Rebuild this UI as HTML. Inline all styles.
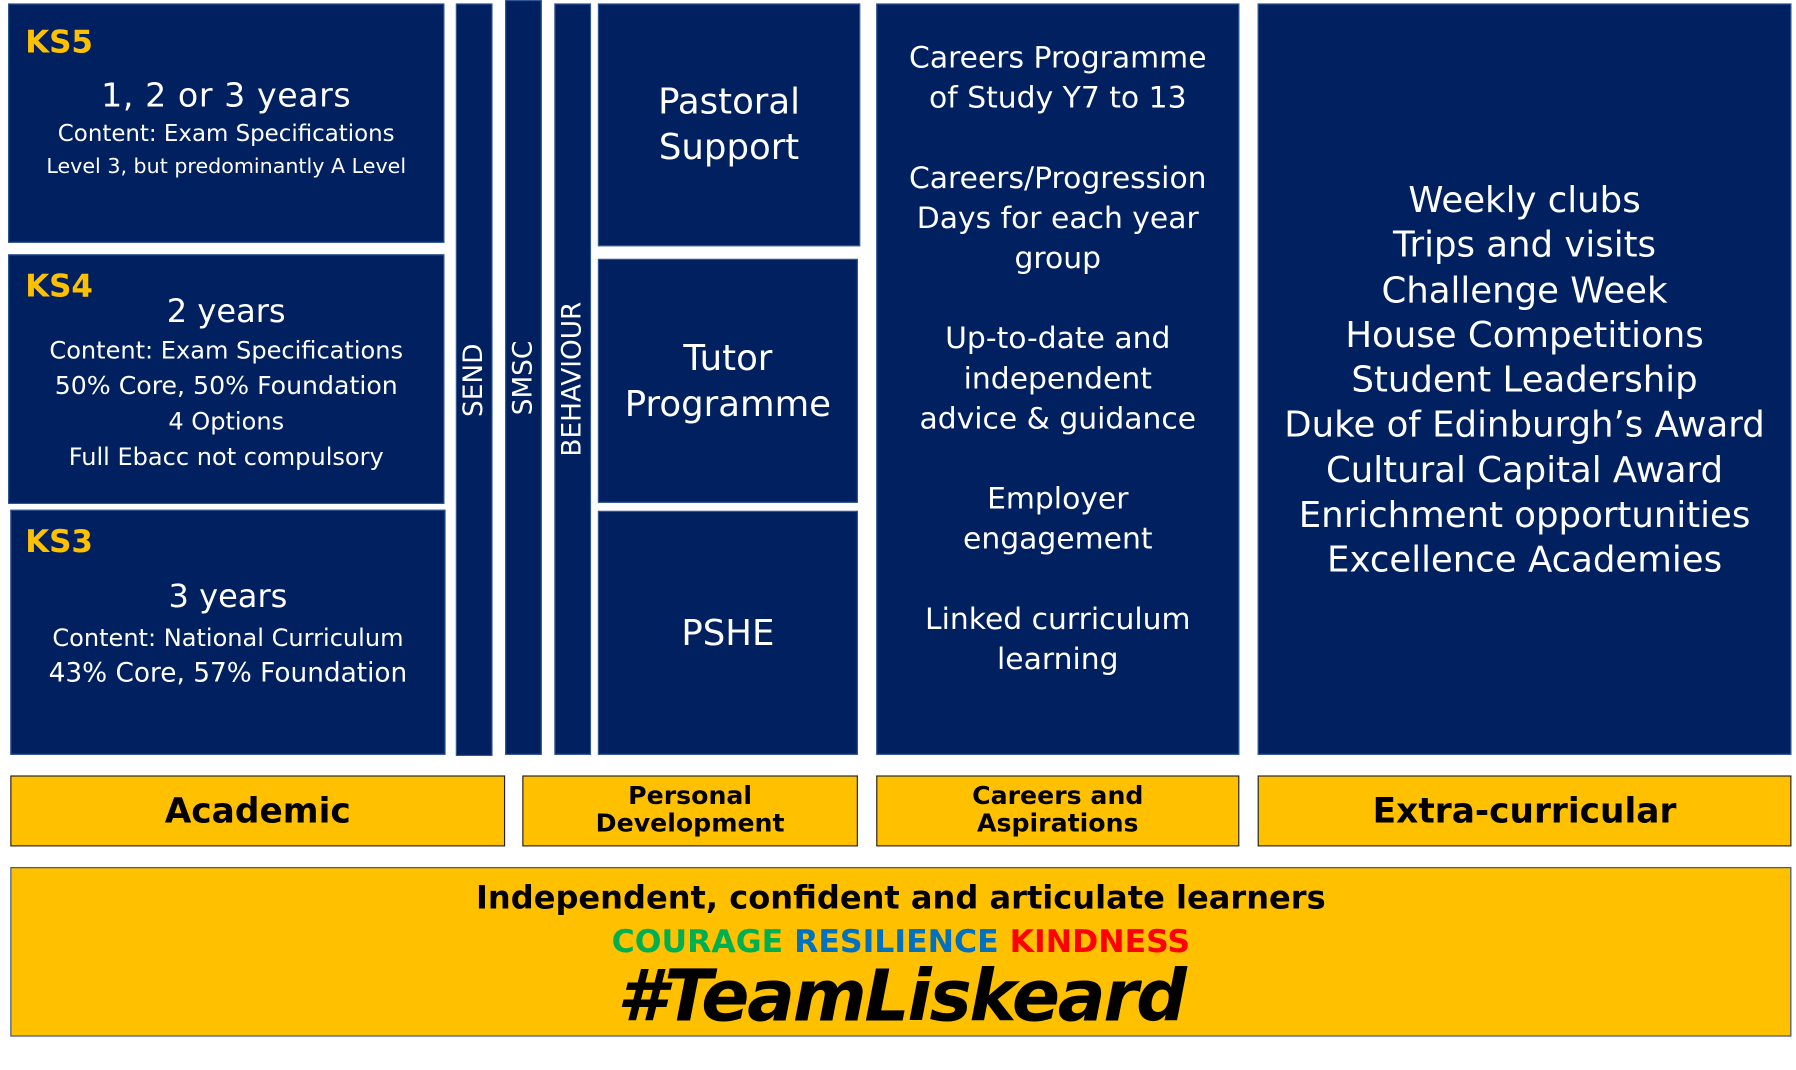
<!DOCTYPE html>
<html><head><meta charset="utf-8"><style>
html,body{margin:0;padding:0;background:#fff;width:1796px;height:1069px;overflow:hidden}
#s{position:absolute;left:0;top:0;width:1568px;height:934px;transform:scale(1.14541);transform-origin:0 0;font-family:"DejaVu Sans","Liberation Sans",sans-serif}
.b{position:absolute;background:#002060;border:1.5px solid #2f5597;box-sizing:border-box;color:#fff;text-align:center}
.y{position:absolute;background:#ffc000;border:1.5px solid #222;box-sizing:border-box;color:#000;text-align:center;font-weight:bold;display:flex;align-items:center;justify-content:center;line-height:1.1}
.ks{position:absolute;left:14px;top:18px;color:#ffc000;font-weight:bold;font-size:27px}
.v{position:absolute;left:50%;top:50%;transform:translate(-50%,-50%) rotate(-90deg);font-size:23px;white-space:nowrap}
.c{display:flex;flex-direction:column;justify-content:center;align-items:center;height:100%}
</style></head><body><div id="s">
<div class="b" style="left:7px;top:3px;width:381px;height:209px"><div class="ks">KS5</div>
<div style="position:absolute;top:62px;width:100%;font-size:29px;letter-spacing:0.5px">1, 2 or 3 years</div>
<div style="position:absolute;top:98px;width:100%;font-size:20px;line-height:28px">Content: Exam Specifications<br><span style="font-size:18px">Level 3, but predominantly A Level</span></div></div>
<div class="b" style="left:7px;top:222px;width:381px;height:218px"><div class="ks" style="top:12px">KS4</div>
<div style="position:absolute;top:32px;width:100%;font-size:28px">2 years</div>
<div style="position:absolute;top:68px;width:100%;font-size:21px;line-height:31px">Content: Exam Specifications<br><span style="font-size:22px">50% Core, 50% Foundation</span><br>4 Options<br>Full Ebacc not compulsory</div></div>
<div class="b" style="left:9px;top:445px;width:380px;height:214px"><div class="ks" style="left:12px;top:12px">KS3</div>
<div style="position:absolute;top:58px;width:100%;font-size:28px">3 years</div>
<div style="position:absolute;top:96px;width:100%;font-size:21px;line-height:31px">Content: National Curriculum<br><span style="font-size:23px">43% Core, 57% Foundation</span></div></div>
<div class="b" style="left:398px;top:3px;width:32px;height:657px"><div class="v">SEND</div></div>
<div class="b" style="left:441px;top:0px;width:32px;height:659px"><div class="v">SMSC</div></div>
<div class="b" style="left:484px;top:3px;width:32px;height:656px"><div class="v">BEHAVIOUR</div></div>
<div class="b" style="left:522px;top:3px;width:229px;height:212px"><div class="c" style="font-size:31px;line-height:40px">Pastoral<br>Support</div></div>
<div class="b" style="left:522px;top:226px;width:227px;height:213px"><div class="c" style="font-size:31px;line-height:40px">Tutor<br>Programme</div></div>
<div class="b" style="left:522px;top:446px;width:227px;height:213px"><div class="c" style="font-size:31px">PSHE</div></div>
<div class="b" style="left:765px;top:3px;width:317px;height:656px;font-size:26px;line-height:35px;padding-top:30px">Careers Programme<br>of Study Y7 to 13<br><div style="height:35px"></div>Careers/Progression<br>Days for each year<br>group<div style="height:35px"></div>Up-to-date and<br>independent<br>advice &amp; guidance<div style="height:35px"></div>Employer<br>engagement<div style="height:35px"></div>Linked curriculum<br>learning</div>
<div class="b" style="left:1098px;top:3px;width:466px;height:656px;font-size:31px;line-height:39.3px;padding-top:152px;white-space:nowrap">Weekly clubs<br>Trips and visits<br>Challenge Week<br>House Competitions<br>Student Leadership<br>Duke of Edinburgh’s Award<br>Cultural Capital Award<br>Enrichment opportunities<br>Excellence Academies</div>
<div class="y" style="left:9px;top:677px;width:432px;height:62px;font-size:30px">Academic</div>
<div class="y" style="left:456px;top:677px;width:293px;height:62px;font-size:22px">Personal<br>Development</div>
<div class="y" style="left:765px;top:677px;width:317px;height:62px;font-size:22px">Careers and<br>Aspirations</div>
<div class="y" style="left:1098px;top:677px;width:466px;height:62px;font-size:30px">Extra-curricular</div>
<div class="y" style="left:9px;top:757px;width:1555px;height:148px;display:block;border-color:#2f5597">
<div style="position:absolute;top:11px;width:100%;font-size:28px">Independent, confident and articulate learners</div>
<div style="position:absolute;top:49px;width:100%;font-size:27.5px"><span style="color:#00b050">COURAGE</span> <span style="color:#0070c0">RESILIENCE</span> <span style="color:#ff0000">KINDNESS</span></div>
<div style="position:absolute;top:78px;width:100%;font-size:62px;font-style:italic;letter-spacing:-2px;font-family:'DejaVu Sans',sans-serif">#TeamLiskeard</div>
</div>
</div></body></html>
